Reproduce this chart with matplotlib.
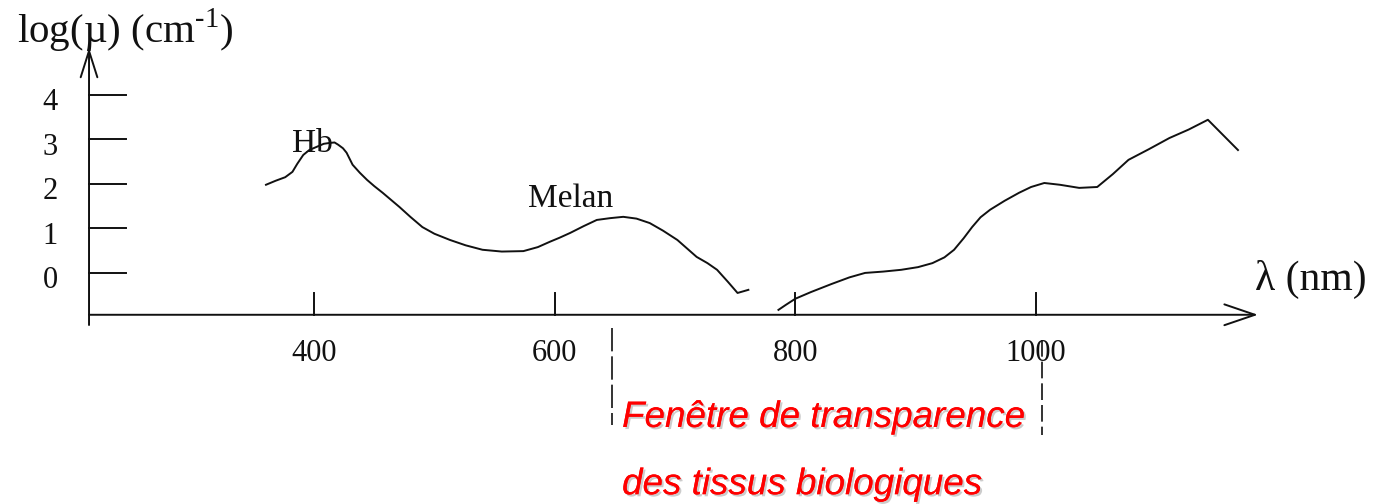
import numpy as np
import matplotlib.pyplot as plt
from matplotlib import patheffects

# absorption curve, visible part (Hb and melanin bands)
wl_vis = [360, 368, 376, 382, 386, 391, 396, 402, 408, 413, 417, 420, 424, 427, 432,
          438, 444, 450, 457, 464, 471, 480, 490, 500, 513, 526, 540, 556, 574, 586,
          596, 604, 613, 624, 635, 646, 657, 668, 679, 690, 702, 710, 718, 727, 735,
          744, 752, 761]
mu_vis = [1.98, 2.07, 2.15, 2.27, 2.45, 2.65, 2.76, 2.83, 2.90, 2.92, 2.93, 2.88, 2.80, 2.70, 2.43,
          2.25, 2.09, 1.95, 1.80, 1.64, 1.48, 1.26, 1.03, 0.88, 0.74, 0.62, 0.52, 0.48, 0.49, 0.58,
          0.70, 0.79, 0.90, 1.05, 1.19, 1.23, 1.26, 1.22, 1.12, 0.95, 0.74, 0.55, 0.36, 0.22, 0.07,
          -0.20, -0.45, -0.38]

# near infrared part
wl_ir = [786, 792, 800, 813, 830, 845, 858, 873, 888, 902, 914, 924, 932, 940, 947,
         954, 962, 974, 986, 996, 1007, 1020, 1036, 1051, 1064, 1077, 1094, 1111, 1127,
         1143, 1168]
mu_ir = [-0.83, -0.72, -0.58, -0.43, -0.25, -0.10, 0.00, 0.03, 0.07, 0.13, 0.22, 0.35, 0.52, 0.78, 1.03,
         1.25, 1.42, 1.62, 1.80, 1.93, 2.02, 1.98, 1.91, 1.93, 2.22, 2.54, 2.78, 3.03, 3.22,
         3.44, 2.76]

x_ticks = [400, 600, 800, 1000]
y_ticks = [0, 1, 2, 3, 4]
window = [648, 1005]   # limits of the transparency window (nm)

plt.rcParams['font.family'] = ['Liberation Serif', 'DejaVu Serif']
plt.rcParams['mathtext.fontset'] = 'custom'
plt.rcParams['mathtext.rm'] = 'Liberation Serif'

fig = plt.figure(figsize=(13.78, 5.04), dpi=100)
ax = fig.add_axes([0, 0, 1, 1])
ax.set_xlim(138.9, 1284.4)
ax.set_ylim(-5.19, 6.13)
ax.axis('off')

x0, y0 = 212.9, -0.94      # where the hand drawn axes cross
ink = '#111111'

# axes with open arrow heads
ax.annotate('', xy=(x0, 5.06), xytext=(x0, -1.17),
            arrowprops=dict(arrowstyle='->,head_length=19,head_width=6', mutation_scale=1,
                            lw=1.4, color=ink, shrinkA=0, shrinkB=0))
ax.annotate('', xy=(1184.6, y0), xytext=(x0, y0),
            arrowprops=dict(arrowstyle='->,head_length=22,head_width=7.5', mutation_scale=1,
                            lw=1.4, color=ink, shrinkA=0, shrinkB=0))

# ticks
for t in y_ticks:
    ax.plot([x0, 243.6], [t, t], color=ink, lw=1.4)
    ax.text(180.5, t - 0.18, str(t), ha='center', va='center', fontsize=22, color=ink)
for t in x_ticks:
    ax.plot([t, t], [y0, -0.45], color=ink, lw=1.4)
    ax.text(t, -1.8, str(t), ha='center', va='center', fontsize=22, color=ink)

# curves
ax.plot(wl_vis, mu_vis, color=ink, lw=1.4)
ax.plot(wl_ir, mu_ir, color=ink, lw=1.4)

# labels
ax.text(153, 5.17, r'log(µ) (cm$^{\text{-1}}$)', fontsize=29.5, ha='left', va='baseline', color=ink)
ax.text(1182.1, -0.38, 'λ (nm)', fontsize=30, ha='left', va='baseline', color=ink)
ax.text(381.6, 2.72, 'Hb', fontsize=24, ha='left', va='baseline', color=ink)
ax.text(577.8, 1.48, 'Melan', fontsize=24, ha='left', va='baseline', color=ink)

# transparency window
ax.plot([window[0]] * 2, [-1.24, -3.42], color=ink, lw=1.2, linestyle=(0, (14, 3)))
ax.plot([window[1]] * 2, [-1.51, -3.64], color=ink, lw=1.2, linestyle=(0, (10, 3)))

shadow = [patheffects.withSimplePatchShadow(offset=(1.5, -1.5), shadow_rgbFace='#aaaaaa', alpha=0.6),
          patheffects.Normal()]
for txt, yb in [('Fenêtre de transparence', -3.46), ('des tissus biologiques', -4.97)]:
    ax.text(656, yb, txt, fontsize=26.5, family='Liberation Sans', style='italic', color='#ff0000',
            ha='left', va='baseline', path_effects=shadow)

fig.savefig('out.png', dpi=100)
